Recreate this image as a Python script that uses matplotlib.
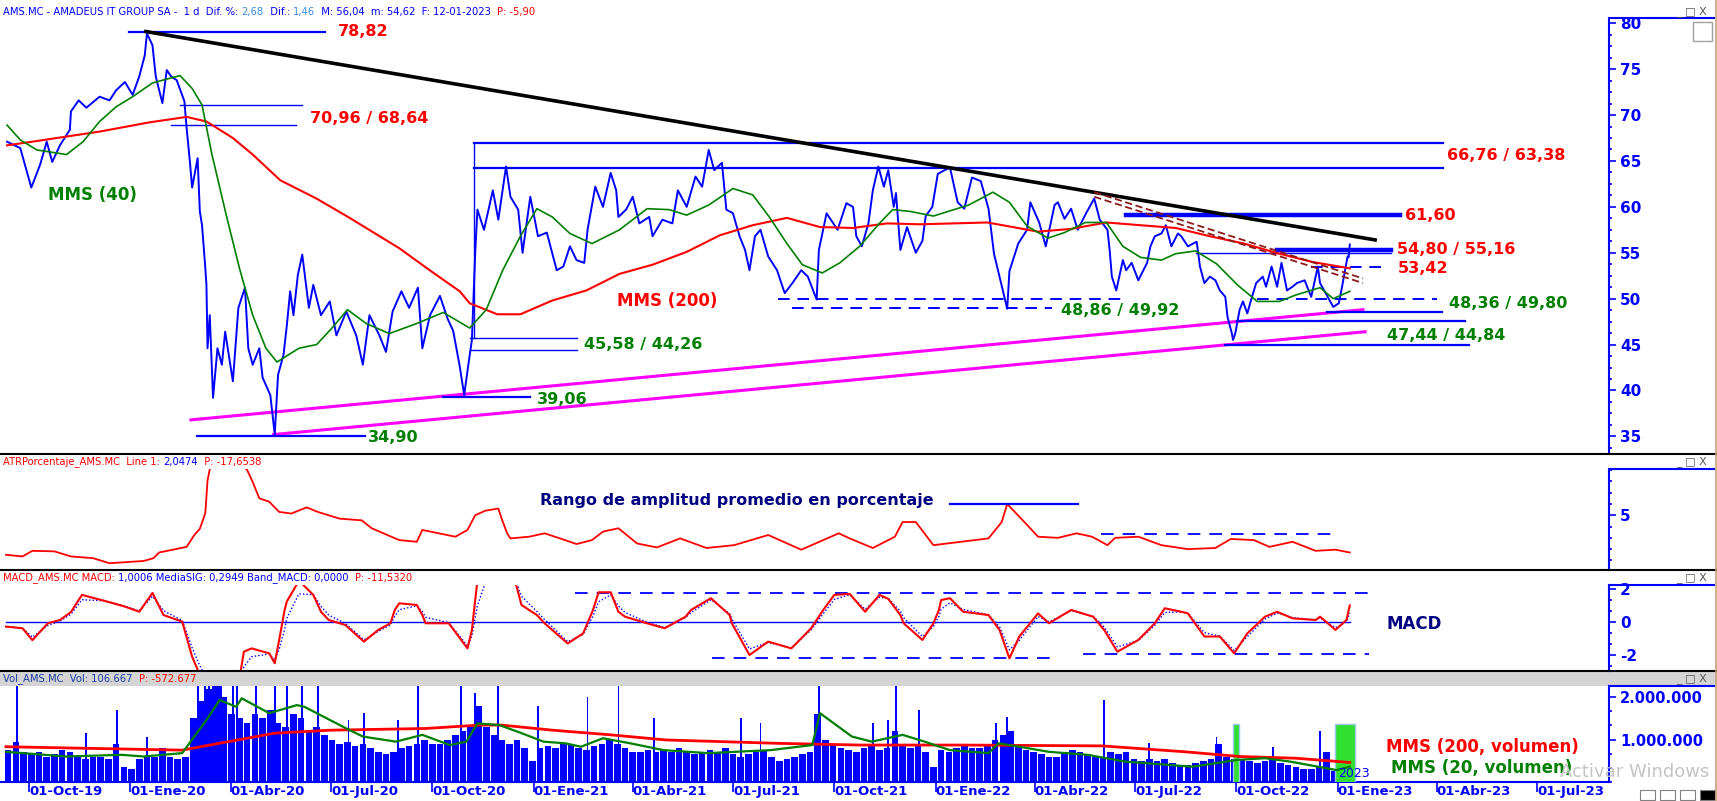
import pandas as pd
import matplotlib
matplotlib.use("Agg")
import matplotlib.pyplot as plt
import matplotlib.dates as mdates
from matplotlib.ticker import MultipleLocator, FixedLocator, FixedFormatter
from matplotlib.patches import Rectangle
from matplotlib.lines import Line2D

plt.rcParams["font.family"] = ["DejaVu Sans"]

# ---------------- price (closes) ----------------
price_dates = [
    "2019-09-11", "2019-09-23", "2019-10-03", "2019-10-11", "2019-10-17", "2019-10-22", "2019-10-29",
    "2019-11-07", "2019-11-08", "2019-11-15", "2019-11-22", "2019-12-04", "2019-12-13", "2019-12-19",
    "2019-12-27", "2020-01-03", "2020-01-09", "2020-01-14", "2020-01-16", "2020-01-21", "2020-01-24",
    "2020-01-30", "2020-02-03", "2020-02-07", "2020-02-12", "2020-02-19", "2020-02-21", "2020-02-24",
    "2020-02-26", "2020-03-02", "2020-03-04", "2020-03-06", "2020-03-09", "2020-03-10", "2020-03-11",
    "2020-03-13", "2020-03-16", "2020-03-20", "2020-03-24", "2020-03-27", "2020-04-03", "2020-04-08",
    "2020-04-14", "2020-04-17", "2020-04-21", "2020-04-27", "2020-04-30", "2020-05-07", "2020-05-11",
    "2020-05-14", "2020-05-19", "2020-05-22", "2020-05-25", "2020-05-28", "2020-06-01", "2020-06-05",
    "2020-06-08", "2020-06-11", "2020-06-15", "2020-06-22", "2020-06-30", "2020-07-06", "2020-07-15",
    "2020-07-24", "2020-07-30", "2020-08-05", "2020-08-14", "2020-08-20", "2020-08-26", "2020-09-03",
    "2020-09-10", "2020-09-18", "2020-09-22", "2020-09-29", "2020-10-08", "2020-10-15", "2020-10-20",
    "2020-10-26", "2020-10-30", "2020-11-03", "2020-11-06", "2020-11-09", "2020-11-11", "2020-11-17",
    "2020-11-25", "2020-11-30", "2020-12-07", "2020-12-11", "2020-12-18", "2020-12-22", "2020-12-29",
    "2021-01-05", "2021-01-13", "2021-01-22", "2021-01-28", "2021-02-03", "2021-02-09", "2021-02-16",
    "2021-02-19", "2021-02-26", "2021-03-05", "2021-03-12", "2021-03-17", "2021-03-19", "2021-03-26",
    "2021-04-01", "2021-04-07", "2021-04-16", "2021-04-19", "2021-04-28", "2021-05-07", "2021-05-12",
    "2021-05-20", "2021-05-28", "2021-06-03", "2021-06-09", "2021-06-14", "2021-06-21", "2021-06-25",
    "2021-07-01", "2021-07-07", "2021-07-12", "2021-07-16", "2021-07-21", "2021-07-26", "2021-08-02",
    "2021-08-10", "2021-08-17", "2021-08-24", "2021-09-01", "2021-09-07", "2021-09-15", "2021-09-17",
    "2021-09-24", "2021-10-04", "2021-10-12", "2021-10-18", "2021-10-21", "2021-10-26", "2021-11-01",
    "2021-11-05", "2021-11-10", "2021-11-15", "2021-11-19", "2021-11-24", "2021-11-26", "2021-11-30",
    "2021-12-06", "2021-12-14", "2021-12-20", "2021-12-23", "2021-12-29", "2022-01-03", "2022-01-14",
    "2022-01-21", "2022-01-27", "2022-02-03", "2022-02-11", "2022-02-18", "2022-02-23", "2022-03-07",
    "2022-03-09", "2022-03-17", "2022-03-25", "2022-03-28", "2022-04-05", "2022-04-11", "2022-04-19",
    "2022-04-22", "2022-04-28", "2022-05-04", "2022-05-10", "2022-05-18", "2022-05-25", "2022-05-30",
    "2022-06-06", "2022-06-08", "2022-06-10", "2022-06-14", "2022-06-20", "2022-06-23", "2022-06-28",
    "2022-07-04", "2022-07-12", "2022-07-15", "2022-07-19", "2022-07-25", "2022-07-29", "2022-08-03",
    "2022-08-09", "2022-08-12", "2022-08-18", "2022-08-26", "2022-08-29", "2022-09-02", "2022-09-07",
    "2022-09-12", "2022-09-16", "2022-09-21", "2022-09-23", "2022-09-27", "2022-09-28", "2022-09-30",
    "2022-10-04", "2022-10-07", "2022-10-11", "2022-10-14", "2022-10-19", "2022-10-25", "2022-10-28",
    "2022-11-02", "2022-11-07", "2022-11-11", "2022-11-16", "2022-11-21", "2022-11-25", "2022-12-02",
    "2022-12-08", "2022-12-14", "2022-12-16", "2022-12-22", "2022-12-28", "2023-01-02", "2023-01-05",
    "2023-01-09", "2023-01-10", "2023-01-11", "2023-01-12",
]
price_close = [
    67.1, 66.4, 62.1, 64.6, 67.1, 64.9, 66.7,
    68.4, 70.4, 71.6, 70.8, 72.0, 71.6, 72.7,
    73.6, 72.2, 74.2, 76.5, 78.9, 77.6, 74.2,
    71.3, 74.9, 74.2, 73.8, 71.5, 68.6, 64.9,
    62.1, 65.3, 59.5, 58.0, 53.3, 51.5, 44.6,
    48.2, 39.2, 44.6, 42.8, 46.4, 41.0, 49.0,
    51.2, 44.6, 42.8, 44.6, 41.4, 39.5, 35.2,
    41.7, 43.9, 47.1, 50.8, 48.2, 52.6, 54.8,
    51.9, 49.0, 51.5, 48.2, 49.7, 46.0, 48.6,
    46.0, 42.8, 48.2, 46.0, 44.2, 48.6, 50.8,
    49.0, 51.2, 44.6, 48.2, 50.3, 47.8, 46.5,
    42.6, 39.5, 43.0, 45.5, 55.0, 59.7, 57.5,
    61.8, 58.6, 64.4, 61.1, 59.7, 55.0, 61.1,
    56.8, 57.2, 53.1, 53.5, 55.7, 54.2, 53.9,
    57.5, 62.2, 60.0, 63.7, 61.8, 58.9, 59.7,
    61.1, 58.2, 58.9, 56.8, 58.6, 58.2, 61.8,
    60.0, 63.3, 62.2, 66.2, 64.0, 64.8, 59.7,
    59.3, 56.8, 55.3, 53.1, 56.8, 57.5, 54.6,
    53.1, 50.6, 51.7, 53.1, 52.4, 49.9, 55.3,
    59.3, 57.5, 60.4, 60.0, 56.8, 55.7, 58.2,
    61.8, 64.4, 62.2, 64.0, 60.0, 61.5, 55.3,
    57.8, 55.0, 56.3, 59.0, 60.0, 63.6, 64.3,
    60.5, 59.8, 63.2, 62.8, 59.8, 54.9, 48.9,
    53.0, 56.0, 57.5, 60.5, 58.3, 55.7, 60.2,
    60.5, 58.7, 59.8, 57.5, 59.4, 60.9, 58.6,
    57.5, 55.3, 52.4, 50.9, 54.2, 53.1, 53.9,
    52.0, 53.9, 55.7, 56.8, 57.1, 58.0, 55.7,
    57.1, 56.8, 55.7, 56.2, 53.5, 51.7, 52.4,
    52.0, 50.9, 50.2, 48.0, 46.2, 45.5, 46.2,
    48.8, 49.7, 48.4, 49.7, 51.7, 52.4, 51.3,
    53.5, 51.3, 53.9, 50.9, 51.3, 51.7, 52.0,
    50.2, 53.5, 51.7, 50.4, 49.1, 49.5, 51.3,
    53.9, 54.6, 54.5, 55.9,
]

# MMS (40) green and MMS (200) red
mms40_dates = [
    "2019-09-11", "2019-09-23", "2019-10-08", "2019-11-04", "2019-11-19", "2019-12-04", "2019-12-19",
    "2020-01-03", "2020-01-21", "2020-02-15", "2020-02-26", "2020-03-06", "2020-03-15", "2020-03-28",
    "2020-04-09", "2020-04-21", "2020-05-03", "2020-05-13", "2020-06-02", "2020-06-18", "2020-07-02",
    "2020-07-16", "2020-08-02", "2020-08-23", "2020-09-17", "2020-10-11", "2020-11-04", "2020-11-19",
    "2020-12-04", "2020-12-20", "2021-01-04", "2021-01-18", "2021-02-03", "2021-02-23", "2021-03-20",
    "2021-04-14", "2021-05-04", "2021-05-20", "2021-06-09", "2021-07-01", "2021-07-19", "2021-08-03",
    "2021-08-19", "2021-09-02", "2021-09-20", "2021-10-06", "2021-10-24", "2021-11-11", "2021-11-23",
    "2021-12-09", "2021-12-30", "2022-01-31", "2022-02-22", "2022-03-09", "2022-03-25", "2022-04-13",
    "2022-04-28", "2022-05-17", "2022-06-05", "2022-06-20", "2022-07-06", "2022-07-25", "2022-08-07",
    "2022-08-25", "2022-09-13", "2022-10-02", "2022-10-20", "2022-11-09", "2022-11-24", "2022-12-16",
    "2022-12-28", "2023-01-12",
]
mms40 = [
    68.9, 67.3, 66.2, 65.7, 67.1, 69.3, 70.9,
    72.0, 73.5, 74.3, 72.9, 71.1, 65.7, 59.1,
    53.3, 48.2, 44.6, 43.1, 44.6, 45.0, 46.8,
    48.8, 47.3, 46.2, 47.3, 48.5, 46.8, 48.8,
    53.1, 56.8, 59.8, 58.9, 57.1, 56.0, 57.5,
    59.8, 59.7, 59.1, 60.2, 62.0, 61.3, 58.9,
    56.0, 53.7, 52.8, 53.9, 55.7, 58.2, 59.7,
    59.5, 59.0, 60.2, 61.6, 60.5, 57.9, 56.6,
    57.2, 58.3, 58.3, 55.7, 54.5, 54.2, 54.9,
    55.2, 53.8, 51.5, 49.7, 49.7, 50.4, 51.2,
    50.0, 50.8,
]
mms200_dates = [
    "2019-09-11", "2019-10-04", "2019-12-04", "2020-01-18", "2020-02-21", "2020-03-10", "2020-04-03",
    "2020-04-21", "2020-05-16", "2020-06-18", "2020-07-18", "2020-09-01", "2020-10-01", "2020-10-26",
    "2020-11-04", "2020-11-29", "2020-12-20", "2021-01-18", "2021-02-18", "2021-03-20", "2021-04-19",
    "2021-05-20", "2021-06-19", "2021-07-19", "2021-08-19", "2021-09-18", "2021-10-18", "2021-11-18",
    "2021-12-18", "2022-02-17", "2022-04-04", "2022-05-04", "2022-06-05", "2022-07-06", "2022-08-07",
    "2022-09-07", "2022-10-08", "2022-11-09", "2022-12-09", "2023-01-12",
]
mms200 = [
    66.7, 67.1, 68.2, 69.2, 69.8, 69.3, 67.5,
    65.7, 62.9, 60.9, 58.8, 55.5, 52.9, 50.8,
    49.5, 48.3, 48.3, 49.8, 50.9, 52.7, 53.7,
    55.1, 56.9, 58.0, 58.8, 57.8, 57.7, 58.2,
    58.1, 58.3, 57.3, 57.6, 58.3, 58.0, 57.7,
    56.8, 56.0, 54.9, 54.0, 53.3,
]

# hand drawn levels on the price panel: (from, to, level)
levels_thin = [
    ("2020-02-15", "2020-06-05", 71.1),
    ("2020-02-07", "2020-05-30", 68.9),
    ("2020-11-04", "2021-02-09", 45.7),
    ("2020-11-04", "2021-02-09", 44.4),
    ("2022-08-25", "2023-02-18", 55.0),
]
levels_mid = [
    ("2019-12-31", "2020-06-26", 79.1),
    ("2020-11-08", "2023-04-07", 67.0),
    ("2020-11-08", "2023-04-07", 64.2),
    ("2020-10-11", "2020-12-29", 39.25),
    ("2020-03-01", "2020-08-01", 35.0),
    ("2022-12-22", "2023-04-06", 48.6),
    ("2022-10-02", "2023-04-27", 47.6),
    ("2022-09-21", "2023-04-30", 44.9),
]
levels_thick = [
    ("2022-06-23", "2023-02-27", 59.1),
    ("2022-11-07", "2023-02-18", 55.25),
]
levels_dashed = [
    ("2021-08-11", "2022-06-23", 50.0),
    ("2021-08-24", "2022-04-17", 48.95),
    ("2022-12-08", "2023-02-15", 53.5),
    ("2022-10-20", "2023-04-01", 50.0),
]
box_left = ("2020-11-08", 45.7, 67.0)

trend_black = (["2020-01-15", "2023-02-04"], [79.1, 56.4])
trend_pink_up = (["2020-02-25", "2023-01-24"], [36.8, 48.8])
trend_pink_low = (["2020-05-10", "2023-01-26"], [35.2, 46.4])
channel_brown = (["2022-05-25", "2023-01-24"], [61.6, 52.2])
channel_gap = 0.5

price_labels = [
    ("78,82", "2020-07-07", 79.15, "red"),
    ("70,96 / 68,64", "2020-06-12", 69.6, "red"),
    ("66,76 / 63,38", "2023-04-10", 65.6, "red"),
    ("61,60", "2023-03-03", 59.1, "red"),
    ("54,80 / 55,16", "2023-02-24", 55.4, "red"),
    ("53,42", "2023-02-25", 53.3, "red"),
    ("48,36 / 49,80", "2023-04-12", 49.5, "green"),
    ("47,44 / 44,84", "2023-02-15", 46.0, "green"),
    ("48,86 / 49,92", "2022-04-25", 48.7, "green"),
    ("45,58 / 44,26", "2021-02-16", 45.0, "green"),
    ("39,06", "2021-01-04", 39.0, "green"),
    ("34,90", "2020-08-04", 34.9, "green"),
    ("MMS (40)", "2019-10-18", 61.3, "green"),
    ("MMS (200)", "2021-03-18", 49.8, "red"),
]

# ---------------- ATR % ----------------
atr_dates = [
    "2019-09-10", "2019-09-25", "2019-10-04", "2019-10-24", "2019-11-08", "2019-11-28", "2019-12-13",
    "2020-01-13", "2020-01-22", "2020-01-27", "2020-02-21", "2020-02-28", "2020-03-04", "2020-03-09",
    "2020-03-11", "2020-03-16", "2020-03-24", "2020-04-02", "2020-04-10", "2020-04-16", "2020-04-21",
    "2020-04-27", "2020-05-06", "2020-05-15", "2020-05-26", "2020-06-09", "2020-06-19", "2020-07-09",
    "2020-07-29", "2020-08-07", "2020-09-01", "2020-09-17", "2020-09-22", "2020-10-07", "2020-10-22",
    "2020-11-02", "2020-11-09", "2020-11-18", "2020-11-30", "2020-12-03", "2020-12-08", "2020-12-11",
    "2020-12-28", "2021-01-11", "2021-01-25", "2021-02-09", "2021-02-23", "2021-03-05", "2021-03-19",
    "2021-04-05", "2021-04-23", "2021-05-14", "2021-06-07", "2021-07-02", "2021-08-02", "2021-09-01",
    "2021-10-05", "2021-10-15", "2021-11-05", "2021-11-25", "2021-12-02", "2021-12-14", "2021-12-30",
    "2022-01-24", "2022-02-18", "2022-03-02", "2022-03-07", "2022-03-25", "2022-04-04", "2022-04-22",
    "2022-05-09", "2022-05-23", "2022-06-06", "2022-06-13", "2022-07-04", "2022-07-25", "2022-08-18",
    "2022-09-12", "2022-09-26", "2022-10-17", "2022-10-31", "2022-11-21", "2022-12-12", "2022-12-30",
    "2023-01-12",
]
atr = [
    1.5, 1.35, 1.85, 1.8, 1.35, 1.2, 0.75,
    0.95, 1.2, 1.7, 2.2, 3.25, 3.8, 5.2,
    8.1, 10.5, 12.0, 11.0, 9.6, 9.0, 7.95,
    6.5, 6.2, 5.3, 5.15, 5.7, 5.3, 4.7,
    4.55, 3.85, 2.8, 2.65, 3.7, 3.4, 3.1,
    3.7, 5.0, 5.4, 5.6, 4.7, 3.4, 2.95,
    3.1, 3.4, 2.95, 2.45, 2.8, 3.55, 3.85,
    2.5, 2.15, 2.95, 2.1, 2.35, 3.25, 1.95,
    3.4, 2.95, 2.1, 3.1, 4.4, 4.4, 2.35,
    2.65, 2.95, 4.4, 6.0, 4.15, 3.1, 3.0,
    3.4, 3.1, 2.35, 3.0, 3.1, 2.35, 2.0,
    2.1, 2.9, 2.8, 2.2, 2.65, 1.85, 1.95,
    1.7,
]
atr_level = ("2022-01-14", "2022-05-10", 5.97)
atr_dashed = ("2022-05-31", "2022-12-28", 3.3)

# ---------------- MACD ----------------
macd_dates = [
    "2019-09-10", "2019-09-25", "2019-10-04", "2019-10-18", "2019-10-29", "2019-11-08", "2019-11-18",
    "2019-12-09", "2019-12-27", "2020-01-09", "2020-01-21", "2020-01-31", "2020-02-17", "2020-02-26",
    "2020-03-04", "2020-03-16", "2020-03-27", "2020-04-06", "2020-04-10", "2020-04-13", "2020-04-20",
    "2020-05-06", "2020-05-11", "2020-05-15", "2020-05-20", "2020-05-22", "2020-06-02", "2020-06-15",
    "2020-06-22", "2020-06-29", "2020-07-14", "2020-07-31", "2020-08-13", "2020-08-24", "2020-08-28",
    "2020-09-01", "2020-09-17", "2020-09-22", "2020-09-25", "2020-10-16", "2020-11-02", "2020-11-06",
    "2020-11-11", "2020-11-20", "2020-12-01", "2020-12-16", "2020-12-21", "2021-01-04", "2021-01-11",
    "2021-02-01", "2021-02-15", "2021-02-24", "2021-03-01", "2021-03-12", "2021-03-19", "2021-03-25",
    "2021-04-14", "2021-04-30", "2021-05-19", "2021-05-24", "2021-06-11", "2021-06-28", "2021-06-30",
    "2021-07-16", "2021-08-02", "2021-08-23", "2021-09-10", "2021-09-21", "2021-10-01", "2021-10-15",
    "2021-10-29", "2021-11-11", "2021-11-19", "2021-11-30", "2021-12-03", "2021-12-20", "2021-12-30",
    "2022-01-04", "2022-01-06", "2022-01-14", "2022-01-26", "2022-02-18", "2022-02-28", "2022-03-09",
    "2022-03-18", "2022-04-04", "2022-04-14", "2022-05-04", "2022-05-24", "2022-06-03", "2022-06-15",
    "2022-07-04", "2022-07-19", "2022-07-28", "2022-08-12", "2022-08-18", "2022-09-02", "2022-09-16",
    "2022-09-29", "2022-10-11", "2022-10-27", "2022-11-07", "2022-11-21", "2022-12-12", "2022-12-16",
    "2022-12-30", "2023-01-09", "2023-01-12",
]
macd = [
    -0.28, -0.38, -1.1, -0.08, 0.12, 0.6, 1.64,
    1.27, 0.93, 0.62, 1.76, 0.42, 0.02, -2.1,
    -3.2, -4.6, -5.0, -4.0, -3.0, -1.8, -1.6,
    -1.9, -2.5, -1.1, 0.73, 1.24, 2.5, 1.64,
    0.62, 0.12, -0.18, -1.19, -0.48, -0.08, 0.73,
    1.13, 1.03, 0.42, -0.08, -0.08, -1.6, -0.48,
    2.5, 3.6, 3.8, 2.3, 1.03, 0.42, -0.08,
    -1.3, -0.69, 0.73, 1.8, 1.8, 0.62, 0.32,
    -0.08, -0.38, 0.32, 0.73, 1.44, 0.42, -0.08,
    -2.0, -1.19, -1.6, -0.38, 0.73, 1.64, 1.7,
    0.62, 1.64, 1.4, 0.42, -0.08, -1.09, -0.08,
    0.73, 1.33, 1.44, 0.62, 0.42, -0.48, -2.2,
    -0.88, 0.52, -0.08, 0.73, 0.32, -0.48, -1.8,
    -1.09, -0.08, 0.83, 0.62, 0.52, -0.88, -0.88,
    -1.9, -0.69, 0.32, 0.62, 0.22, 0.12, 0.32,
    -0.48, 0.12, 1.0,
]
macd_dashed = [
    ("2021-02-08", "2023-01-29", 1.76),
    ("2021-06-12", "2022-04-19", -2.18),
    ("2022-05-15", "2023-01-29", -1.94),
]

# ---------------- volume (millions) ----------------
vol_week_start = "2019-09-09"
vol_weekly = [
    0.75, 0.95, 0.7, 0.65,
    0.7, 0.6, 0.65, 0.75,
    0.7, 0.6, 0.55, 0.6,
    0.6, 0.55, 0.9, 0.35, 0.3,
    0.55, 0.6, 0.6, 0.8,
    0.6, 0.55, 0.6, 1.5,
    1.9, 2.2, 2.3, 2.0, 1.6,
    1.5, 1.4, 1.6, 1.5,
    1.7, 1.4, 1.3, 1.6,
    1.5, 1.2, 1.3, 1.1, 1.0,
    0.9, 0.95, 0.85, 0.9,
    0.8, 0.7, 0.65, 0.7, 0.8,
    0.85, 0.9, 1.0, 0.9,
    0.9, 1.0, 1.1, 1.2,
    1.3, 1.8, 1.3, 1.1, 1.0,
    0.9, 1.0, 0.8, 0.5,
    0.8, 0.85, 0.8, 0.9,
    0.9, 0.8, 0.75, 0.85,
    0.9, 1.0, 0.9, 0.8, 0.7,
    0.7, 0.75, 0.7, 0.75,
    0.7, 0.8, 0.7, 0.65, 0.7,
    0.75, 0.7, 0.8, 0.65,
    0.6, 0.65, 0.7, 0.75,
    0.6, 0.5, 0.55, 0.6, 0.65,
    0.7, 1.6, 1.0, 0.9,
    0.8, 0.75, 0.7, 0.8,
    0.85, 0.75, 0.8, 1.2, 0.9,
    0.8, 0.85, 0.7, 0.35,
    0.75, 0.7, 0.8, 0.9, 0.8,
    0.8, 0.85, 1.0, 1.1,
    1.2, 0.9, 0.75, 0.7,
    0.65, 0.6, 0.6, 0.7,
    0.75, 0.7, 0.65, 0.6, 0.6,
    0.7, 0.65, 0.7, 0.55,
    0.5, 0.55, 0.5, 0.55,
    0.45, 0.4, 0.4, 0.45, 0.5,
    0.55, 0.9, 0.6, 0.55,
    0.55, 0.5, 0.45, 0.5, 0.55,
    0.45, 0.4, 0.35, 0.3,
    0.3, 0.35, 0.7, 0.25,
    0.45, 0.6,
]
vol_spike_dates = [
    "2019-09-20", "2019-11-22", "2019-12-20", "2020-01-16", "2020-03-02", "2020-03-09", "2020-03-12",
    "2020-03-16", "2020-03-19", "2020-03-23", "2020-04-03", "2020-04-07", "2020-04-24", "2020-05-11",
    "2020-05-22", "2020-06-05", "2020-06-19", "2020-07-17", "2020-07-31", "2020-08-31", "2020-09-18",
    "2020-10-27", "2020-11-09", "2020-11-30", "2021-01-05", "2021-02-19", "2021-03-19", "2021-04-20",
    "2021-07-08", "2021-07-26", "2021-09-17", "2021-11-05", "2021-11-19", "2021-11-26", "2021-12-17",
    "2022-02-25", "2022-03-07", "2022-06-03", "2022-07-14", "2022-09-13", "2022-09-30", "2022-11-03",
    "2022-12-16", "2023-01-10",
]
vol_spikes = [
    2.3, 1.15, 1.7, 1.07, 2.3, 2.3, 2.3,
    2.3, 2.3, 2.3, 2.3, 2.3, 2.3, 2.3,
    2.3, 2.3, 2.3, 1.46, 1.62, 1.46, 2.3,
    2.3, 2.1, 2.3, 1.8, 2.0, 2.3, 1.5,
    1.5, 1.38, 2.3, 1.38, 1.46, 2.3, 1.69,
    1.38, 1.53, 1.93, 0.91, 1.07, 1.3, 0.83,
    1.2, 0.83,
]
vol_mms200_dates = [
    "2019-09-10", "2020-02-17", "2020-05-11", "2020-07-01", "2020-09-25", "2020-11-13", "2020-12-03",
    "2021-01-18", "2021-03-12", "2021-05-01", "2021-08-11", "2021-10-24", "2022-01-24", "2022-06-01",
    "2022-08-16", "2022-10-04", "2022-11-24", "2023-01-12",
]
vol_mms200 = [0.83, 0.75, 1.15, 1.22, 1.26, 1.34, 1.34, 1.22, 1.11, 0.99, 0.91, 0.87, 0.87, 0.85,
              0.71, 0.60, 0.56, 0.46]
vol_mms20_dates = [
    "2019-09-10", "2019-11-04", "2019-12-24", "2020-01-13", "2020-02-17", "2020-03-10", "2020-03-22",
    "2020-04-06", "2020-04-11", "2020-05-06", "2020-05-31", "2020-06-07", "2020-07-15", "2020-07-30",
    "2020-08-29", "2020-09-22", "2020-10-17", "2020-11-01", "2020-11-11", "2020-12-01", "2020-12-21",
    "2021-01-10", "2021-01-30", "2021-02-13", "2021-03-05", "2021-03-30", "2021-04-29", "2021-06-08",
    "2021-08-04", "2021-09-11", "2021-09-18", "2021-10-17", "2021-11-04", "2021-12-02", "2021-12-22",
    "2022-01-14", "2022-02-18", "2022-02-27", "2022-03-09", "2022-04-14", "2022-05-19", "2022-06-22",
    "2022-08-22", "2022-10-02", "2022-10-27", "2022-11-19", "2022-12-31", "2023-01-12",
]
vol_mms20 = [
    0.71, 0.60, 0.64, 0.60, 0.68, 1.46, 1.93,
    1.77, 1.97, 1.62, 1.81, 1.77, 1.26, 1.07,
    0.95, 1.11, 0.87, 0.95, 1.38, 1.34, 1.15,
    0.95, 0.91, 0.83, 1.03, 0.91, 0.75, 0.68,
    0.75, 0.87, 1.62, 1.07, 0.95, 1.11, 0.95,
    0.75, 0.68, 0.91, 0.87, 0.71, 0.64, 0.48,
    0.36, 0.52, 0.56, 0.48, 0.28, 0.36,
]
vol_boxes = [("2022-09-28", "2022-10-03", 1.36), ("2022-12-30", "2023-01-17", 1.36)]

x_tick_dates = [
    "2019-10-01", "2020-01-01", "2020-04-01", "2020-07-01", "2020-10-01", "2021-01-01", "2021-04-01",
    "2021-07-01", "2021-10-01", "2022-01-01", "2022-04-01", "2022-07-01", "2022-10-01", "2023-01-01",
    "2023-04-01", "2023-07-01",
]
x_tick_labels = [
    "01-Oct-19", "01-Ene-20", "01-Abr-20", "01-Jul-20", "01-Oct-20", "01-Ene-21", "01-Abr-21",
    "01-Jul-21", "01-Oct-21", "01-Ene-22", "01-Abr-22", "01-Jul-22", "01-Oct-22", "01-Ene-23",
    "01-Abr-23", "01-Jul-23",
]

# ---------------- colours ----------------
BLUE = "#0000ff"
LBLUE = "#3a8ee6"
RED = "#ff0000"
GREEN = "#008000"
NAVY = "#000080"
PINK = "#ff00ff"
BROWN = "#8b1a1a"
COLS = {"red": RED, "green": GREEN}

W, H = 1717.0, 801.0
fig = plt.figure(figsize=(W / 100, H / 100), dpi=100)
fig.patch.set_facecolor("white")


def box(top, bottom):
    return [0, 1 - bottom / H, 1609 / W, (bottom - top) / H]


ax_p = fig.add_axes(box(18.3, 454))
ax_a = fig.add_axes(box(469, 570), sharex=ax_p)
ax_m = fig.add_axes(box(585, 671), sharex=ax_p)
ax_v = fig.add_axes(box(686, 782), sharex=ax_p)

D = pd.to_datetime

for ax in (ax_p, ax_a, ax_m, ax_v):
    for s in ("left", "top", "bottom"):
        ax.spines[s].set_visible(False)
    ax.spines["right"].set_color(BLUE)
    ax.spines["right"].set_linewidth(1.5)
    ax.yaxis.tick_right()
    ax.tick_params(axis="y", which="major", colors=BLUE, length=5, width=1.2, pad=3, labelsize=11)
    ax.tick_params(axis="y", which="minor", colors=BLUE, length=2.5, width=1.2)
    ax.tick_params(axis="x", which="both", bottom=False, labelbottom=False)
    ax.set_facecolor("white")

ax_p.set_xlim(pd.Timestamp("2019-09-04 14:00"), pd.Timestamp("2023-09-04 08:00"))

# ---- price panel ----
ax_p.set_ylim(33.08, 80.54)
ax_p.yaxis.set_major_locator(MultipleLocator(5))
ax_p.yaxis.set_minor_locator(MultipleLocator(1.25))

ax_p.plot(D(trend_pink_up[0]), trend_pink_up[1], color=PINK, lw=2.2, zorder=2)
ax_p.plot(D(trend_pink_low[0]), trend_pink_low[1], color=PINK, lw=2.2, zorder=2)
for a, b, v in levels_thin:
    ax_p.plot(D([a, b]), [v, v], color=BLUE, lw=1.0, zorder=2)
for a, b, v in levels_mid:
    ax_p.plot(D([a, b]), [v, v], color=BLUE, lw=1.6, zorder=2)
for a, b, v in levels_thick:
    ax_p.plot(D([a, b]), [v, v], color=BLUE, lw=3.2, zorder=2)
for a, b, v in levels_dashed:
    ax_p.plot(D([a, b]), [v, v], color=BLUE, lw=1.4, ls=(0, (6, 4)), zorder=2)
ax_p.plot(D([box_left[0], box_left[0]]), [box_left[1], box_left[2]], color=BLUE, lw=1.0)

ax_p.plot(D(price_dates), price_close, color=BLUE, lw=1.4, zorder=3)
ax_p.plot(D(mms200_dates), mms200, color=RED, lw=1.5, zorder=4)
ax_p.plot(D(mms40_dates), mms40, color=GREEN, lw=1.2, zorder=4)
ax_p.plot(D(trend_black[0]), trend_black[1], color="black", lw=2.6, zorder=5)
for k in (0, 1):
    ax_p.plot(D(channel_brown[0]), [v - k * channel_gap for v in channel_brown[1]],
              color=BROWN, lw=1.3, ls=(0, (4, 2)), zorder=5)

for txt, d, v, c in price_labels:
    size = 12 if txt.startswith("MMS") else 11.5
    ax_p.text(pd.Timestamp(d), v, txt, color=COLS[c], fontsize=size, fontweight="bold",
              ha="left", va="center", zorder=6)

# ---- ATR panel ----
ax_a.set_ylim(0.15, 9.1)
ax_a.yaxis.set_major_locator(FixedLocator([5]))
ax_a.yaxis.set_minor_locator(MultipleLocator(1))
ax_a.plot(D(atr_dates), atr, color=RED, lw=1.3)
ax_a.plot(D([atr_level[0], atr_level[1]]), [atr_level[2]] * 2, color=BLUE, lw=1.6)
ax_a.plot(D([atr_dashed[0], atr_dashed[1]]), [atr_dashed[2]] * 2, color=BLUE, lw=1.3, ls=(0, (7, 5)))
ax_a.text(pd.Timestamp("2021-01-07"), 6.35, "Rango de amplitud promedio en porcentaje",
          color=NAVY, fontsize=11.5, fontweight="bold", ha="left", va="center")

# ---- MACD panel ----
ax_m.set_ylim(-2.97, 2.24)
ax_m.yaxis.set_major_locator(FixedLocator([-2, 0, 2]))
ax_m.yaxis.set_major_formatter(FixedFormatter(["-2", "0", "2"]))
ax_m.yaxis.set_minor_locator(MultipleLocator(2 / 3))
macd_idx = D(macd_dates)
macd_s = pd.Series(macd, index=macd_idx)
signal = macd_s.ewm(halflife=pd.Timedelta("5D"), times=macd_idx).mean()
ax_m.plot(D([macd_dates[0], macd_dates[-1]]), [0, 0], color=BLUE, lw=1.0)
for a, b, v in macd_dashed:
    ax_m.plot(D([a, b]), [v, v], color=BLUE, lw=1.3, ls=(0, (7, 5)))
ax_m.plot(macd_idx, signal.values, color=BLUE, lw=1.0, ls=(0, (1, 1.5)))
ax_m.plot(macd_idx, macd, color=RED, lw=1.5)
ax_m.text(pd.Timestamp("2023-02-14"), -0.12, "MACD", color=NAVY, fontsize=12, fontweight="bold",
          ha="left", va="center")

# ---- volume panel ----
ax_v.set_ylim(0, 2.26)
ax_v.yaxis.set_major_locator(FixedLocator([1, 2]))
ax_v.yaxis.set_major_formatter(FixedFormatter(["1.000.000", "2.000.000"]))
ax_v.yaxis.set_minor_locator(MultipleLocator(1 / 3))
ax_v.tick_params(axis="y", which="major", labelsize=10.5)
ax_v.spines["bottom"].set_visible(True)
ax_v.spines["bottom"].set_color(BLUE)
ax_v.spines["bottom"].set_linewidth(1.5)
week_idx = pd.date_range(vol_week_start, periods=len(vol_weekly), freq="7D")
ax_v.bar(week_idx, vol_weekly, width=6.0, align="edge", color=BLUE, linewidth=0, zorder=2)
ax_v.bar(D(vol_spike_dates), vol_spikes, width=1.6, color=BLUE, linewidth=0, zorder=2)
for a, b, hgt in vol_boxes:
    a, b = pd.Timestamp(a), pd.Timestamp(b)
    ax_v.add_patch(Rectangle((mdates.date2num(a), 0), mdates.date2num(b) - mdates.date2num(a), hgt,
                             facecolor="#2fe02f", edgecolor="#9cc8f0", lw=1.0, zorder=3))
ax_v.plot(D(vol_mms200_dates), vol_mms200, color=RED, lw=2.0, zorder=4)
ax_v.plot(D(vol_mms20_dates), vol_mms20, color=GREEN, lw=1.6, zorder=4)
ax_v.text(pd.Timestamp("2023-01-01"), 0.2, "2023", color=BLUE, fontsize=9, ha="left", va="center", zorder=5)
ax_v.text(pd.Timestamp("2023-02-14"), 0.83, "MMS (200, volumen)", color=RED, fontsize=12,
          fontweight="bold", ha="left", va="center", zorder=5)
ax_v.text(pd.Timestamp("2023-02-18"), 0.33, "MMS (20, volumen)", color=GREEN, fontsize=12,
          fontweight="bold", ha="left", va="center", zorder=5)
ax_v.text(pd.Timestamp("2023-07-22"), 0.23, "Activar Windows", color="#c4c4c4", fontsize=13,
          ha="left", va="center", zorder=6, clip_on=False)

ax_v.xaxis.set_major_locator(FixedLocator(mdates.date2num(D(x_tick_dates))))
ax_v.xaxis.set_major_formatter(FixedFormatter(x_tick_labels))
ax_v.tick_params(axis="x", which="major", bottom=True, labelbottom=True, colors=BLUE,
                 length=7, width=1.2, pad=-5, labelsize=9.5)
for lbl in ax_v.get_xticklabels():
    lbl.set_ha("left")
    lbl.set_fontweight("bold")

for ax in (ax_p, ax_a, ax_m, ax_v):
    for lbl in ax.get_yticklabels():
        lbl.set_fontweight("bold")

# ---- window chrome: separators, headers ----
for y in (454, 570, 671):
    fig.add_artist(Line2D([0, 1], [1 - y / H] * 2, color="black", lw=1.5, transform=fig.transFigure))
for y in (18.3, 469, 585, 686):
    fig.add_artist(Line2D([1609 / W, 1714 / W], [1 - y / H] * 2, color=BLUE, lw=1.5,
                          transform=fig.transFigure))
fig.add_artist(Rectangle((0, 1 - 686 / H), 1, 15 / H, transform=fig.transFigure,
                         facecolor="#d4d4d4", edgecolor="none", zorder=0))
fig.add_artist(Rectangle((1693 / W, 1 - 41 / H), 19 / W, 19 / H, transform=fig.transFigure,
                         facecolor="white", edgecolor="#a0a0a0", lw=1.0))
fig.add_artist(Line2D([1716 / W, 1716 / W], [0, 1], color="#c8a070", lw=1.2, transform=fig.transFigure))
for i, fc in enumerate(("white", "white", "white", "black")):
    fig.add_artist(Rectangle(((1640 + 20 * i) / W, 1 / H), 15 / W, 10 / H, transform=fig.transFigure,
                             facecolor=fc, edgecolor="#808080", lw=0.8))


def header(ax, x, y, parts, size=7.2):
    prev = None
    for s, c in parts:
        if prev is None:
            prev = ax.annotate(s, xy=(x, H - y), xycoords="figure pixels", ha="left", va="center",
                               color=c, fontsize=size)
        else:
            prev = ax.annotate(s, xy=(1, 0.5), xycoords=prev, ha="left", va="center",
                               color=c, fontsize=size)


header(ax_p, 3, 12, [("AMS.MC - AMADEUS IT GROUP SA -  1 d  Dif. %: ", BLUE), ("2,68", LBLUE),
                     ("  Dif.: ", BLUE), ("1,46", LBLUE),
                     ("  M: 56,04  m: 54,62  F: 12-01-2023  ", BLUE), ("P: -5,90", RED)])
header(ax_a, 3, 462, [("ATRPorcentaje_AMS.MC  Line 1: ", RED), ("2,0474", BLUE), ("  P: -17,6538", RED)])
header(ax_m, 3, 578, [("MACD_AMS.MC MACD: ", RED), ("1,0006 MediaSIG: 0,2949 Band_MACD: 0,0000  ", BLUE),
                      ("P: -11,5320", RED)])
header(ax_v, 3, 678.5, [("Vol_AMS.MC  Vol: 106.667  ", "#1a3aa0"), ("P: -572.677", RED)])
for y in (12, 462, 578, 678.5):
    fig.text(1676 / W, 1 - y / H, "_ \u25a1 X", color="#555555", fontsize=8, va="center", ha="left")

fig.savefig("out.png", dpi=100)
